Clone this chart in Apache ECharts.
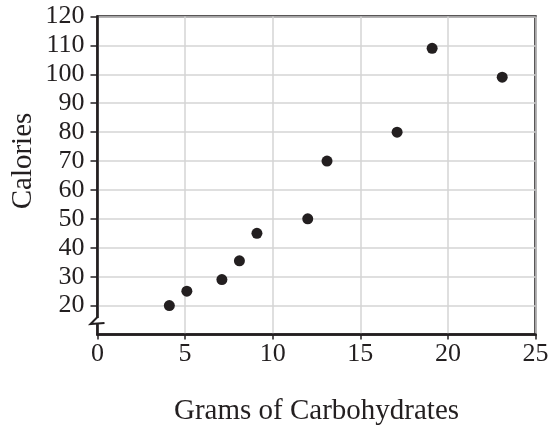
<!DOCTYPE html>
<html><head><meta charset="utf-8">
<script src="https://cdn.jsdelivr.net/npm/echarts@6/dist/echarts.min.js"></script>
<style>html,body{margin:0;padding:0;background:#fff}#c{width:550px;height:428px}</style>
</head><body><div id="c"></div>
<script>
const carbs = [4.1, 5.1, 7.1, 8.1, 9.1, 12, 13.1, 17.1, 19.1, 23.1];
const calories = [20, 25, 29, 35.5, 45, 50, 70, 80, 109, 99];
const xTicks = [0, 5, 10, 15, 20, 25];
const yTicks = [20, 30, 40, 50, 60, 70, 80, 90, 100, 110, 120];
const xTitle = 'Grams of Carbohydrates';
const yTitle = 'Calories';

const ink = '#231f20';
const font = '"Liberation Serif", "Times New Roman", serif';
const chart = echarts.init(document.getElementById('c'), null, {renderer: 'canvas'});
chart.setOption({
  animation: false,
  backgroundColor: '#fff',
  grid: {left: 97.5, right: 14.5, top: 16.5, bottom: 93.5, show: true, borderColor: ink, borderWidth: 2.5,
    containLabel: false, outerBoundsMode: 'none'},
  xAxis: {
    type: 'value', min: xTicks[0], max: xTicks[xTicks.length - 1], interval: 5,
    name: xTitle, nameLocation: 'middle', nameGap: 62,
    nameTextStyle: {fontFamily: font, fontSize: 29, color: ink},
    axisLine: {show: true, lineStyle: {color: ink, width: 2.5}},
    axisTick: {show: true, length: 5, lineStyle: {color: ink, width: 1.5}},
    axisLabel: {fontFamily: font, fontSize: 26, color: ink, margin: 7},
    splitLine: {show: true, lineStyle: {color: '#d4d4d4', width: 1.5}}
  },
  yAxis: {
    type: 'value', min: 10, max: yTicks[yTicks.length - 1], interval: 10,
    axisLine: {show: true, lineStyle: {color: ink, width: 2.5}},
    axisTick: {show: true, length: 7, customValues: yTicks, lineStyle: {color: ink, width: 1.5}},
    axisLabel: {fontFamily: font, fontSize: 26, color: ink, margin: 13, customValues: yTicks},
    splitLine: {show: true, lineStyle: {color: '#d4d4d4', width: 1.5}}
  },
  series: [{
    type: 'scatter', symbol: 'circle', symbolSize: 11,
    itemStyle: {color: ink, opacity: 1},
    data: carbs.map((c, i) => [c, calories[i]])
  }]
});
const p = chart.convertToPixel({gridIndex: 0}, [0, 15]);
const x = p[0], y = p[1] + 2;
chart.setOption({
  graphic: [
    {type: 'rect', shape: {x: x - 2, y: y - 4, width: 4, height: 6}, style: {fill: '#fff'}, z: 100},
    {type: 'polyline', shape: {points: [[x, y - 5], [x - 7, y + 2], [x + 7, y + 1]]},
      style: {stroke: ink, lineWidth: 2, fill: null}, z: 101},
    {type: 'text', x: 23, y: 161, rotation: Math.PI / 2,
      style: {text: yTitle, font: '29px ' + font, fill: ink, align: 'center', verticalAlign: 'middle'}}
  ]
});
</script></body></html>
